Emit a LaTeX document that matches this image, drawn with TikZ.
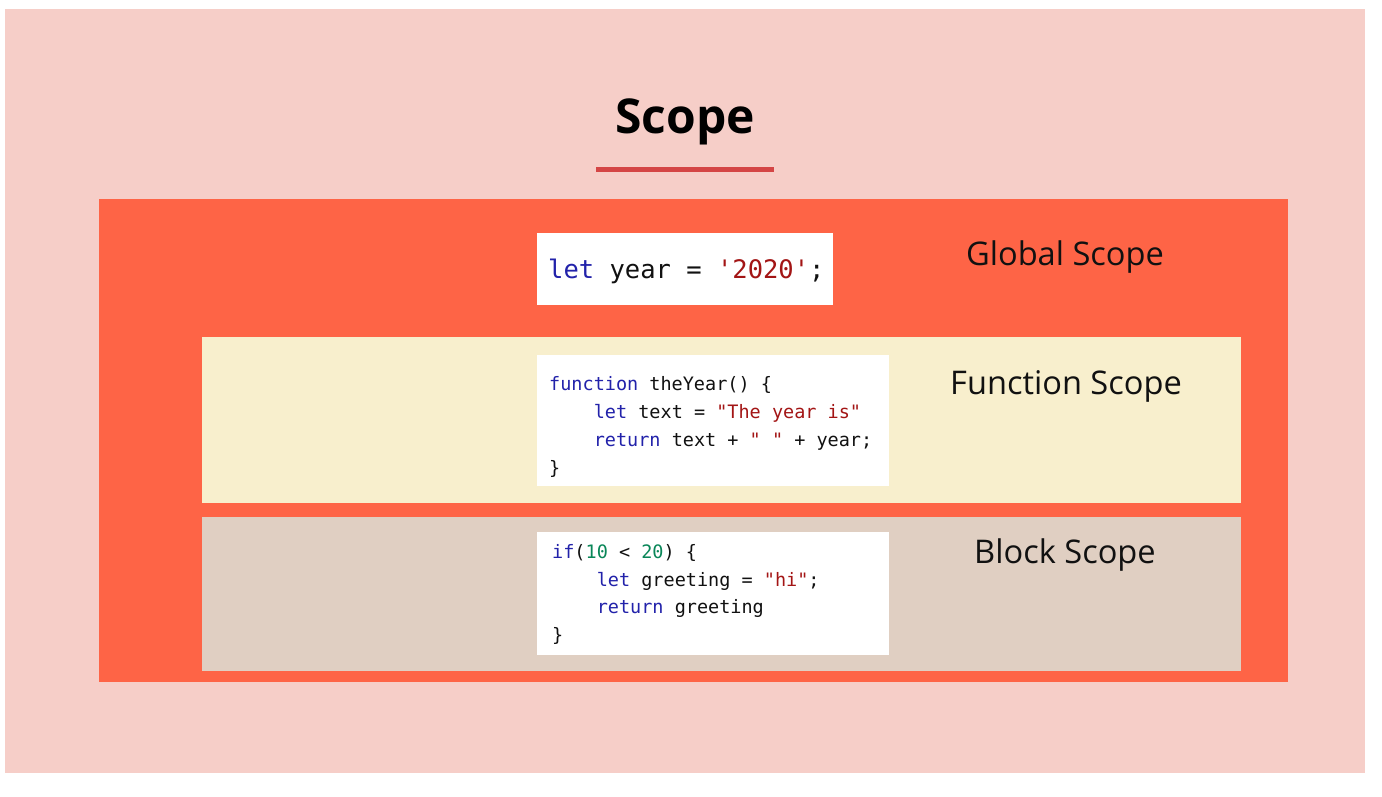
\documentclass[tikz,border=0pt]{standalone}
\usepackage{fontspec}
\setmainfont{Open Sans}
\setmonofont{DejaVu Sans Mono}
\definecolor{bgpink}{HTML}{F6CEC8}
\definecolor{globalc}{HTML}{FE6446}
\definecolor{funcc}{HTML}{F8EFCD}
\definecolor{blockc}{HTML}{E0CFC2}
\definecolor{linec}{HTML}{D44545}
\definecolor{kw}{HTML}{2222AA}
\definecolor{str}{HTML}{A31515}
\definecolor{num}{HTML}{098658}
\definecolor{txt}{HTML}{111111}
\newcommand{\K}[1]{\textcolor{kw}{#1}}
\newcommand{\Sx}[1]{\textcolor{str}{#1}}
\newcommand{\N}[1]{\textcolor{num}{#1}}
\begin{document}
\begin{tikzpicture}[x=1pt,y=-1pt,
  lbl/.style={anchor=base,inner sep=0pt,text=txt,font=\fontsize{32.6}{36}\selectfont},
  bigcode/.style={anchor=base west,inner sep=0pt,text=txt,font=\ttfamily\fontsize{25.5}{30}\selectfont},
  code/.style={anchor=base west,inner sep=0pt,text=txt,font=\ttfamily\fontsize{18.5}{28}\selectfont},
  codebox/.style={fill=white,draw=none}]
\useasboundingbox (0,0) rectangle (1382,796);
\fill[white] (0,0) rectangle (1382,796);
\fill[bgpink] (5,9) rectangle (1365,773);
% title
\node[anchor=base,inner sep=0pt,font=\bfseries\fontsize{48}{54}\selectfont] (title) at (685,133) {Scope};
\fill[linec] (596,167) rectangle (774,172);
% scope areas
\fill[globalc] (99,199) rectangle (1288,682);
\fill[funcc] (202,337) rectangle (1241,503);
\fill[blockc] (202,517) rectangle (1241,671);
% code boxes
\fill[codebox] (537,233) rectangle (833,305);
\fill[codebox] (537,355) rectangle (889,486);
\fill[codebox] (537,532) rectangle (889,655);
% labels
\node[lbl] (glbl) at (1065,265) {Global Scope};
\node[lbl] (flbl) at (1066,394) {Function Scope};
\node[lbl] (blbl) at (1065,563) {Block Scope};
% global code
\node[bigcode] (g1) at (548,278) {\K{let} year = \Sx{'2020'};};
% function code
\node[code] (f1) at (549,390) {\K{function} theYear() \{};
\node[code] (f2) at (593.6,418) {\K{let} text = \Sx{"The year is"}};
\node[code] (f3) at (593.6,446) {\K{return} text + \Sx{" "} + year;};
\node[code] (f4) at (549,474) {\}};
% block code
\node[code] (b1) at (552,558) {\K{if}(\N{10} < \N{20}) \{};
\node[code] (b2) at (596.6,586) {\K{let} greeting = \Sx{"hi"};};
\node[code] (b3) at (596.6,613) {\K{return} greeting};
\node[code] (b4) at (552,641) {\}};
\end{tikzpicture}
\end{document}
